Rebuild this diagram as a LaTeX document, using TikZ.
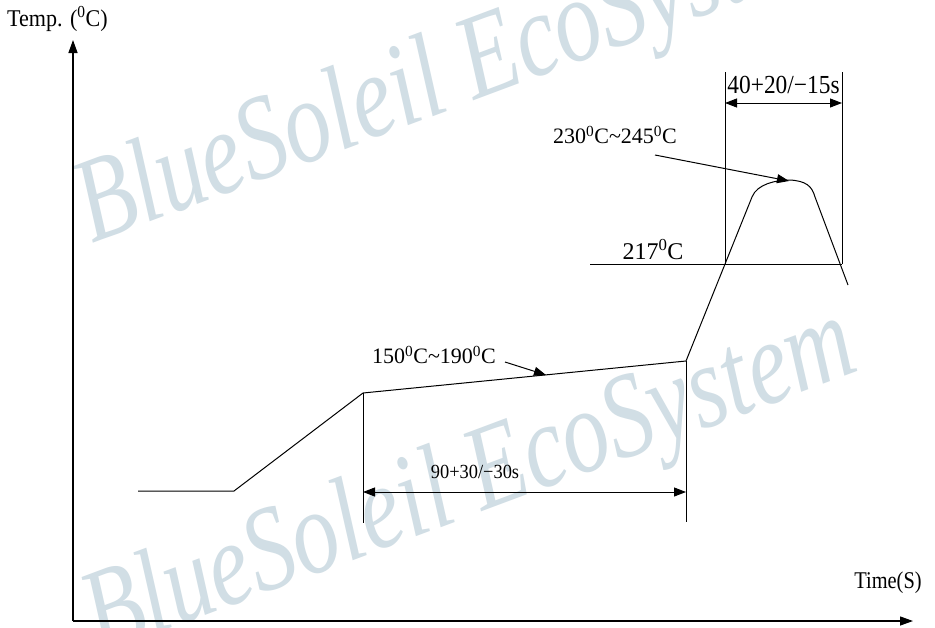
\documentclass[tikz,border=0pt]{standalone}
\usepackage{fontspec}
\setmainfont{Liberation Serif}
\usetikzlibrary{arrows.meta}
\definecolor{wmcol}{RGB}{209,222,229}
\newcommand{\wmark}{\scalebox{0.78}[1]{BlueSoleil EcoSystem}}
\begin{document}
\begin{tikzpicture}[x=1pt,y=-1pt,
  wmtext/.style={font=\fontsize{120}{120}\selectfont\itshape, text=wmcol, inner sep=0pt, anchor=base west, rotate=20.5},
  line/.style={line width=1pt, black},
  axisline/.style={line width=1.3pt, black, -{Triangle[length=13pt,width=9pt]}},
  dimarrow/.style={line width=1pt, {Triangle[length=12pt,width=9pt]}-{Triangle[length=12pt,width=9pt]}},
  callout/.style={line width=1pt, -{Triangle[length=12pt,width=9pt]}},
  lbl/.style={font=\fontsize{22}{22}\selectfont, inner sep=0pt},
  biglbl/.style={font=\fontsize{24}{24}\selectfont, inner sep=0pt},
  smalllbl/.style={font=\fontsize{20}{20}\selectfont, inner sep=0pt}]
\useasboundingbox (0,0) rectangle (935,627);
\clip (0,0) rectangle (935,627);
\fill[white] (0,0) rectangle (935,627);
% watermarks
\node[wmtext] (wm1) at (92,244) {\wmark};
\node[wmtext] (wm2) at (100,655) {\wmark};
% axes
\coordinate (O) at (73,621);
\coordinate (Ytip) at (73,40);
\coordinate (Xtip) at (913,621);
\draw[axisline] (O) -- (Ytip);
\draw[axisline] (O) -- (Xtip);
\node[biglbl, anchor=west] (ylab) at (7,19) {\scalebox{0.92}[1]{Temp. (\textsuperscript{0}C)}};
\node[biglbl] (xlab) at (888,583) {\scalebox{0.85}[1]{Time(S)}};
% profile
\coordinate (p0) at (138,491);
\coordinate (p1) at (234,491);
\coordinate (p2) at (363,393);
\coordinate (p3) at (686,361);
\coordinate (p4) at (752,197);
\coordinate (pk) at (790,180);
\coordinate (p5) at (815,197);
\coordinate (p6) at (848,285);
\draw[line] (p0) -- (p1) -- (p2) -- (p3) -- (p4)
  .. controls (757,184) and (776,180) .. (pk)
  .. controls (806,181) and (812,186) .. (p5) -- (p6);
% soak dimension
\coordinate (s1b) at (363,523);
\coordinate (s2b) at (686,522);
\draw[line] (p2) -- (s1b);
\draw[line] (p3) -- (s2b);
\coordinate (d1a) at (363,492);
\coordinate (d1b) at (686,492);
\draw[dimarrow] (d1a) -- (d1b);
\node[smalllbl] (soaklab) at (475,472) {\scalebox{0.92}[1]{90+30/−30s}};
% reflow dimension
\coordinate (r1t) at (725,72);
\coordinate (r1b) at (725,264);
\coordinate (r2t) at (842,72);
\coordinate (r2b) at (842,264);
\coordinate (l217) at (590,264);
\draw[line] (r1t) -- (r1b);
\draw[line] (r2t) -- (r2b);
\draw[line] (l217) -- (r2b);
\coordinate (d2a) at (725,103);
\coordinate (d2b) at (842,103);
\draw[dimarrow] (d2a) -- (d2b);
\node[font=\fontsize{26}{26}\selectfont, inner sep=0pt] (reflab) at (783.5,85) {\scalebox{0.9}[1]{40+20/−15s}};
\node[biglbl] (t217) at (653,250) {217\textsuperscript{0}C};
% peak callout
\node[lbl] (tpeak) at (615,135) {230\textsuperscript{0}C\textasciitilde245\textsuperscript{0}C};
\coordinate (c1s) at (655,155);
\coordinate (c1e) at (789,181);
\draw[callout] (c1s) -- (c1e);
% soak callout
\node[lbl] (tsoak) at (434,355) {150\textsuperscript{0}C\textasciitilde190\textsuperscript{0}C};
\coordinate (c2s) at (505,362);
\coordinate (c2e) at (546,375);
\draw[callout] (c2s) -- (c2e);
\end{tikzpicture}
\end{document}
